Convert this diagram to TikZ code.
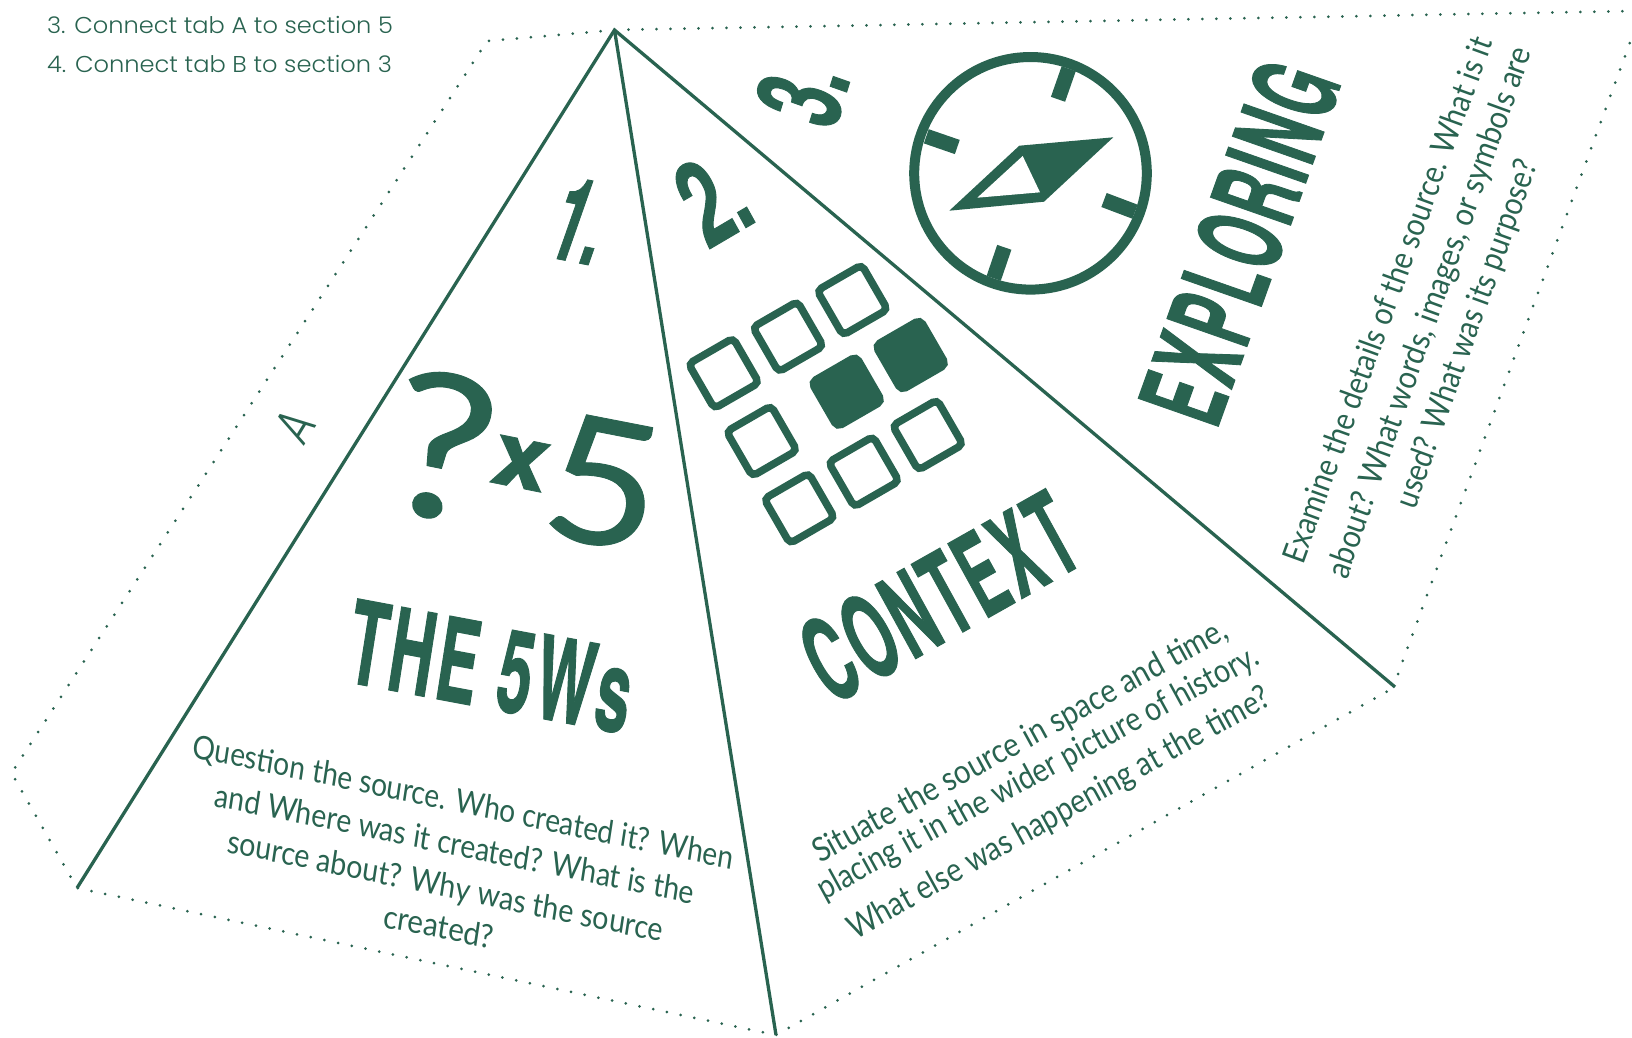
\documentclass[tikz,border=0pt]{standalone}
\usepackage{fontspec}
\setmainfont{Lato}
\newfontfamily\headf{TeX Gyre Heros Bold}[FakeStretch=0.62,FakeBold=0.9,LetterSpace=4]
\newfontfamily\numf{TeX Gyre Heros Bold}[FakeStretch=0.62,FakeBold=0.8]
\newfontfamily\lightf{Poppins Light}
\newfontfamily\geof{Lato}[FakeBold=0.5]
\definecolor{dg}{HTML}{296350}
\newsavebox\fitbox
\newsavebox\capbox
\newdimen\fitw
\newdimen\fith
% name, font, x0, y0 (baseline start), x1, y1 (baseline end), vx, vy (baseline to cap top), text
\newcommand{\fitlabel}[9]{%
  \pgfinterruptpicture%
  \global\sbox\fitbox{\color{dg}#2#9}%
  \global\sbox\capbox{#2H}%
  \endpgfinterruptpicture%
  \fitw=\wd\fitbox
  \fith=\ht\capbox
  \pgfmathsetmacro\ua{(#5-(#3))/\fitw}%
  \pgfmathsetmacro\ub{-(#6-(#4))/\fitw}%
  \pgfmathsetmacro\vc{(#7)/\fith}%
  \pgfmathsetmacro\vd{-(#8)/\fith}%
  \begin{scope}[cm={\ua,\ub,\vc,\vd,(#3,#4)}]%
    \node[anchor=base west,inner sep=0pt,outer sep=0pt,transform shape] (#1) at (0,0) {\usebox\fitbox};%
  \end{scope}%
}
\tikzset{
  solidedge/.style={draw=dg,line width=3.3pt},
  dotedge/.style={draw=dg,line width=3pt,line cap=round,dash pattern=on 0pt off 14pt},
  gridsq/.style={rectangle,draw=dg,line width=7.5pt,minimum size=51.5pt,rounded corners=5pt,rotate=30,inner sep=0pt,outer sep=0pt},
  gridfull/.style={gridsq,fill=dg},
  tick/.style={draw=dg,line width=15pt}
}
\begin{document}
\begin{tikzpicture}[x=1pt,y=-1pt]
\useasboundingbox (0,0) rectangle (1632,1037);
\coordinate (apex) at (614.5,30);
\coordinate (bl) at (77,888);
\coordinate (bm) at (776,1035);
\coordinate (br) at (1395,687);
\coordinate (tabA) at (487,41);
\coordinate (tabB) at (11.5,773);
\coordinate (topend) at (1632,11);
\coordinate (rend) at (1632,37);
\coordinate (rstart) at (1398,674);
% dotted fold outline
\draw[dotedge] (apex) -- (tabA) -- (tabB) -- (bl) -- (bm) -- (br);
\draw[dotedge] (apex) -- (topend);
\draw[dotedge] (rstart) -- (rend);
% solid edges
\draw[solidedge] (bl) -- (apex) -- (br);
\draw[solidedge] (apex) -- (bm);
% header
\fitlabel{hdA}{\lightf}{47}{33.5}{393}{33.5}{0}{-16}{3. Connect tab A to section 5}
\fitlabel{hdB}{\lightf}{47}{72.5}{392}{72.5}{0}{-16}{4. Connect tab B to section 3}
\fitlabel{tabletter}{\lightf}{303}{447}{317}{424}{-31.5}{-20.5}{A}
% numbers
\fitlabel{numA}{\numf}{543}{256}{592}{265.7}{28.6}{-81.7}{1.}
\fitlabel{numB}{\numf}{708}{250}{759}{220}{-42}{-76}{2.}
\fitlabel{numC}{\numf}{834}{133}{851}{78}{-82}{-29}{3.}
% section 1
\fitlabel{qm}{\geof}{379}{507}{483}{528}{23}{-142}{?}
\fitlabel{times}{\numf}{488.3}{481.7}{542.7}{492.7}{14}{-64}{x}
\fitlabel{five}{\geof}{537}{533}{650}{555}{20}{-124}{5}
\fitlabel{headA}{\headf}{343.75}{681.5}{625}{734.2}{13}{-83}{THE 5Ws}
\fitlabel{aA}{}{191.7}{757}{731.8}{869.3}{3.5}{-23}{Question the source. Who created it? When}
\fitlabel{aB}{}{213.5}{806}{692.7}{904}{3.5}{-23}{and Where was it created? What is the}
\fitlabel{aC}{}{226.6}{852}{661.5}{942}{3.5}{-23}{source about? Why was the source}
\fitlabel{aD}{}{382.8}{927}{492}{949}{3.5}{-23}{created?}
% section 2
\node[gridsq] (sqA) at (723.7,373.3) {};
\node[gridsq] (sqB) at (788,336.7) {};
\node[gridsq] (sqC) at (852.3,300) {};
\node[gridsq] (sqD) at (761.7,441) {};
\node[gridfull] (sqE) at (846.7,391.7) {};
\node[gridfull] (sqF) at (910.7,355) {};
\node[gridsq] (sqG) at (799.3,508.3) {};
\node[gridsq] (sqH) at (863.7,471.7) {};
\node[gridsq] (sqI) at (927.7,435) {};
\fitlabel{headB}{\headf}{832}{706}{1087}{562}{-40.7}{-74}{CONTEXT}
\fitlabel{bA}{}{820}{863.7}{1230}{637}{-11.5}{-21}{Situate the source in space and time,}
\fitlabel{bB}{}{824}{900}{1261}{663.7}{-11.5}{-21}{placing it in the wider picture of history.}
\fitlabel{bC}{}{855}{940}{1273}{704}{-11.5}{-21}{What else was happening at the time?}
% section 3: compass
\coordinate (cc) at (1030.5,173.3);
\draw[draw=dg,line width=10pt] (cc) circle[radius=116.3pt];
\draw[tick] (1068.7,68.7) -- (1058,99.3);
\draw[tick] (926.3,136.3) -- (957.3,147);
\draw[tick] (1135,211.7) -- (1104,200);
\draw[tick] (993.7,278.3) -- (1004.3,247.3);
\fill[dg] (1113.3,137.3) -- (1019.3,145.7) -- (949.3,210.7) -- (1044,201.7) -- cycle;
\fill[white] (1022.7,156) -- (1040,192.3) -- (977.3,197.7) -- cycle;
\fitlabel{headC}{\headf}{1216.7}{430.7}{1342}{82}{-80}{-28}{EXPLORING}
\fitlabel{cA}{}{1303}{565}{1493}{42}{-22}{-8}{Examine the details of the source. What is it}
\fitlabel{cB}{}{1347}{580}{1532}{52}{-22}{-8}{about? What words, images, or symbols are}
\fitlabel{cC}{}{1415}{510}{1538}{165}{-22}{-8}{used? What was its purpose?}
\end{tikzpicture}
\end{document}
